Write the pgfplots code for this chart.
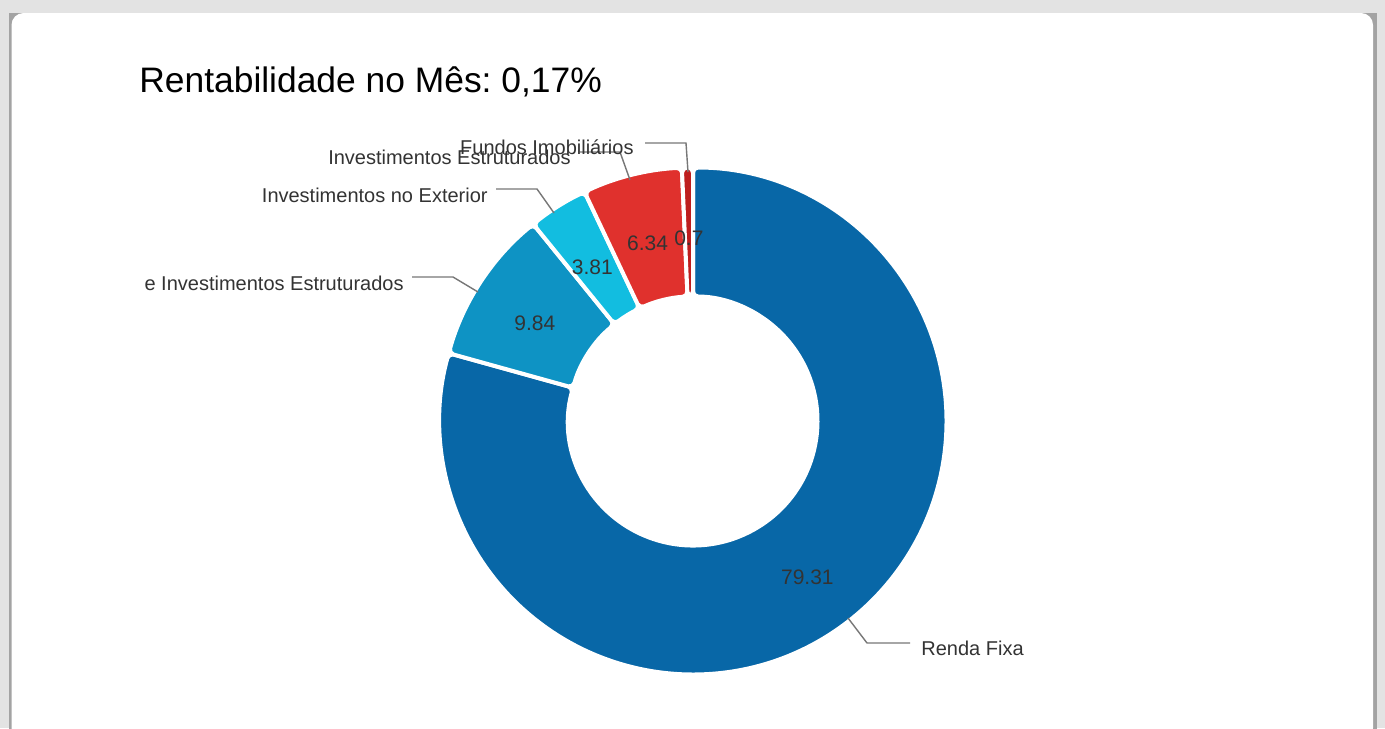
\documentclass[border=0pt]{standalone}
\usepackage{fontspec}
\setmainfont{Liberation Sans}
\usepackage{pgfplots}
\usepackage{pgfplotstable}
\pgfplotsset{compat=1.18}
\frenchspacing

\definecolor{c0}{HTML}{0867A7}
\definecolor{c1}{HTML}{0E93C4}
\definecolor{c2}{HTML}{12BDE0}
\definecolor{c3}{HTML}{E0312D}
\definecolor{c4}{HTML}{BE1E1E}
\definecolor{txt}{HTML}{333333}
\definecolor{lead}{HTML}{777777}
\definecolor{bg}{HTML}{E3E3E3}
\definecolor{edge}{HTML}{A3A3A3}

% slice values, clockwise from 12 o'clock
\pgfplotstableread[col sep=comma]{
label,value
Renda Fixa,79.31
e Investimentos Estruturados,9.84
Investimentos no Exterior,3.81
Investimentos Estruturados,6.34
Fundos Imobiliários,0.7
}\slices

\newcommand\Rout{126.75pt}
\newcommand\Rin{62.25pt}
\newcommand\Rmid{94.5pt}
\newcommand\SA[1]{\csname sa#1\endcsname}
\newcommand\EA[1]{\csname ea#1\endcsname}
\newcommand\MA[1]{\csname ma#1\endcsname}
\newcommand\VAL[1]{\csname val#1\endcsname}

\begin{document}
\begin{tikzpicture}[x=0.5pt, y=-0.5pt]
  % angles from the table
  \gdef\cum{0}
  \foreach \i in {0,...,4}{%
    \pgfplotstablegetelem{\i}{value}\of\slices
    \let\v\pgfplotsretval
    \pgfmathsetmacro\sa{90-3.6*\cum}
    \pgfmathsetmacro\ea{90-3.6*(\cum+\v)}
    \pgfmathsetmacro\ma{(\sa+\ea)/2}
    \pgfmathsetmacro\nc{\cum+\v}
    \expandafter\xdef\csname sa\i\endcsname{\sa}
    \expandafter\xdef\csname ea\i\endcsname{\ea}
    \expandafter\xdef\csname ma\i\endcsname{\ma}
    \expandafter\xdef\csname val\i\endcsname{\v}
    \xdef\cum{\nc}
  }

  \useasboundingbox (0,0) rectangle (1385,728);
  % card
  \fill[bg] (0,0) rectangle (1385,728);
  \fill[edge] (9,13) rectangle (1377,745);
  \fill[white, rounded corners=6pt] (11.5,13) rectangle (1373,740);

  \node[anchor=base west, inner sep=0pt, font=\fontsize{17.7}{20}\selectfont]
    at (139,92) {Rentabilidade no Mês: 0,17\%};

  \coordinate (C) at (693,421);
  \begin{axis}[
      at={(C)}, anchor=center,
      hide axis, clip=false,
      x=126.75pt, y=126.75pt,
      xmin=-1, xmax=1, ymin=-1, ymax=1,
    ]
    \pgfplotsinvokeforeach{0,...,4}{
      \fill[c#1, draw=white, line width=2pt, rounded corners=2.5pt]
        (axis cs:0,0) ++(\SA{#1}:\Rout)
        arc[start angle=\SA{#1}, end angle=\EA{#1}, radius=\Rout]
        -- ++({\EA{#1}+180}:{\Rout-\Rin})
        arc[start angle=\EA{#1}, end angle=\SA{#1}, radius=\Rin]
        -- cycle;
    }
    \pgfplotsinvokeforeach{0,...,4}{
      \path (axis cs:0,0) ++(\MA{#1}:\Rmid)
        node[txt, yshift=-3pt, font=\fontsize{10.5}{12}\selectfont] {\VAL{#1}};
    }
  \end{axis}

  % leader lines and labels
  \begin{scope}[lead, line width=0.7pt]
    \draw (848,618) -- (867,643) -- (910,643);
    \draw (478,292) -- (453,277) -- (412,277);
    \draw (554,213) -- (537,189) -- (496,189);
    \draw (630,180) -- (620,152) -- (580,152);
    \draw (688,172) -- (686,143) -- (645,143);
  \end{scope}
  \begin{scope}[every node/.style={txt, inner sep=0pt, font=\fontsize{10}{12}\selectfont}]
    \node[anchor=base west] at (921,655) {Renda Fixa};
    \node[anchor=base east] at (404,290) {e Investimentos Estruturados};
    \node[anchor=base east] at (488,202) {Investimentos no Exterior};
    \node[anchor=base east] at (571,164) {Investimentos Estruturados};
    \node[anchor=base east] at (634,154) {Fundos Imobiliários};
  \end{scope}
\end{tikzpicture}
\end{document}
